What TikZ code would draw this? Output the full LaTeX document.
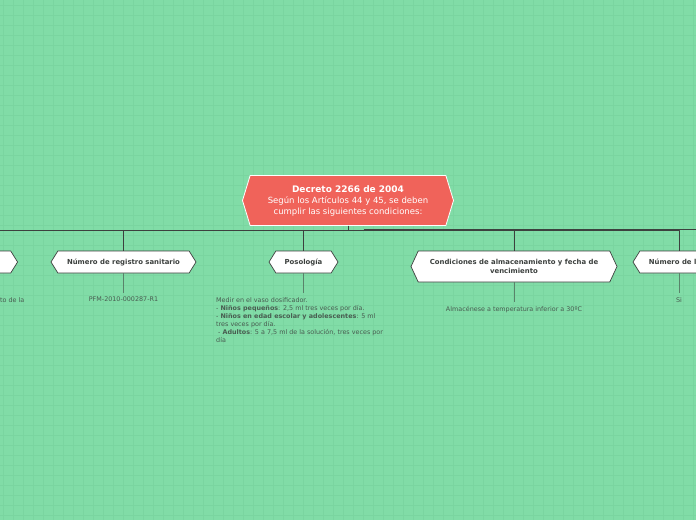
\documentclass[tikz,border=0pt]{standalone}
\usepackage{fontspec}
\setmainfont{DejaVu Sans}
\usetikzlibrary{shapes.symbols}
\definecolor{fondo}{RGB}{129,220,167}
\definecolor{rejilla}{RGB}{122,213,160}
\definecolor{rojo}{RGB}{240,99,90}
\definecolor{tinta}{RGB}{60,64,62}
\definecolor{hoja}{RGB}{72,92,80}
\tikzset{
  tema/.style={signal,signal to=west and east,draw=tinta,fill=white,line width=0.7pt,
    font=\fontsize{6.9}{8}\selectfont\bfseries,text=tinta,inner sep=2pt,minimum height=22pt},
  centro/.style={signal,signal to=west and east,signal pointer angle=146,draw=white,fill=rojo,
    line width=0.8pt,text=white,align=center,minimum width=211pt,minimum height=50pt,
    font=\fontsize{8.5}{11}\selectfont},
  rama/.style={draw=tinta,line width=0.7pt},
  tallo/.style={draw=hoja!70!fondo,line width=0.6pt},
  nota/.style={font=\fontsize{6.4}{8}\selectfont,text=hoja,inner sep=0pt}
}
\hyphenpenalty=10000
\begin{document}
\begin{tikzpicture}[x=1pt,y=-1pt,line join=round]
	\useasboundingbox (0,0) rectangle (696,520);
	\clip (0,0) rectangle (696,520);
	\fill[fondo] (0,0) rectangle (696,520);
	\foreach \x in {3,13,...,693}{\draw[rejilla,line width=0.4pt] (\x,0)--(\x,520);}
	\foreach \y in {5,15,...,515}{\draw[rejilla,line width=0.4pt] (0,\y)--(696,\y);}
	% tema central
	\node[centro] (dec) at (348,200.5) {{\bfseries\fontsize{9}{11}\selectfont Decreto 2266 de 2004}\\Según los Artículos 44 y 45, se deben\\cumplir las siguientes condiciones:};
	% subtemas
	\node[tema,signal pointer angle=116,minimum width=116pt,anchor=east] (contra) at (18,262) {Contraindicaciones};
	\node[tema,signal pointer angle=116,minimum width=145pt] (reg) at (123.5,262) {Número de registro sanitario};
	\node[tema,signal pointer angle=116,minimum width=69pt] (poso) at (303.5,262) {Posología};
	\node[tema,signal pointer angle=130,minimum width=206pt,minimum height=31pt,align=center,font=\fontsize{6.9}{8.5}\selectfont\bfseries] (cond) at (514,266.5) {Condiciones de almacenamiento y fecha de\\vencimiento};
	\node[tema,signal pointer angle=116,minimum width=92pt] (lote) at (679,262) {Número de lote};
	% uniones
	\foreach \t in {contra,reg,poso,cond,lote}{\draw[rama] (dec.south) -- ++(0,4.5) -| (\t.north);}
	\draw[rama,line width=1pt] (364,229.5) -- (696,229.5);
	% notas
	\node[nota,anchor=north east] (contratxt) at (24.5,297) {Tratamiento de la};
	\node[nota,anchor=north] (regtxt) at (123.5,297) {PFM-2010-000287-R1};
	\node[nota,anchor=north west,align=left] (posotxt) at (216,297) {Medir en el vaso dosificador.\\
		- \textbf{Niños pequeños}: 2,5 ml tres veces por día.\\
		- \textbf{Niños en edad escolar y adolescentes}: 5 ml\\tres veces por día.\\
		\ - \textbf{Adultos}: 5 a 7,5 ml de la solución, tres veces por\\día};
	\node[nota,anchor=north] (condtxt) at (514,306) {Almacénese a temperatura inferior a 30ºC};
	\node[nota,anchor=north] (lotetxt) at (679,297) {Si};
	\draw[tallo] (reg.south) -- ++(0,20);
	\draw[tallo] (poso.south) -- ++(0,20);
	\draw[tallo] (cond.south) -- ++(0,20);
	\draw[tallo] (lote.south) -- ++(0,20);
\end{tikzpicture}
\end{document}
